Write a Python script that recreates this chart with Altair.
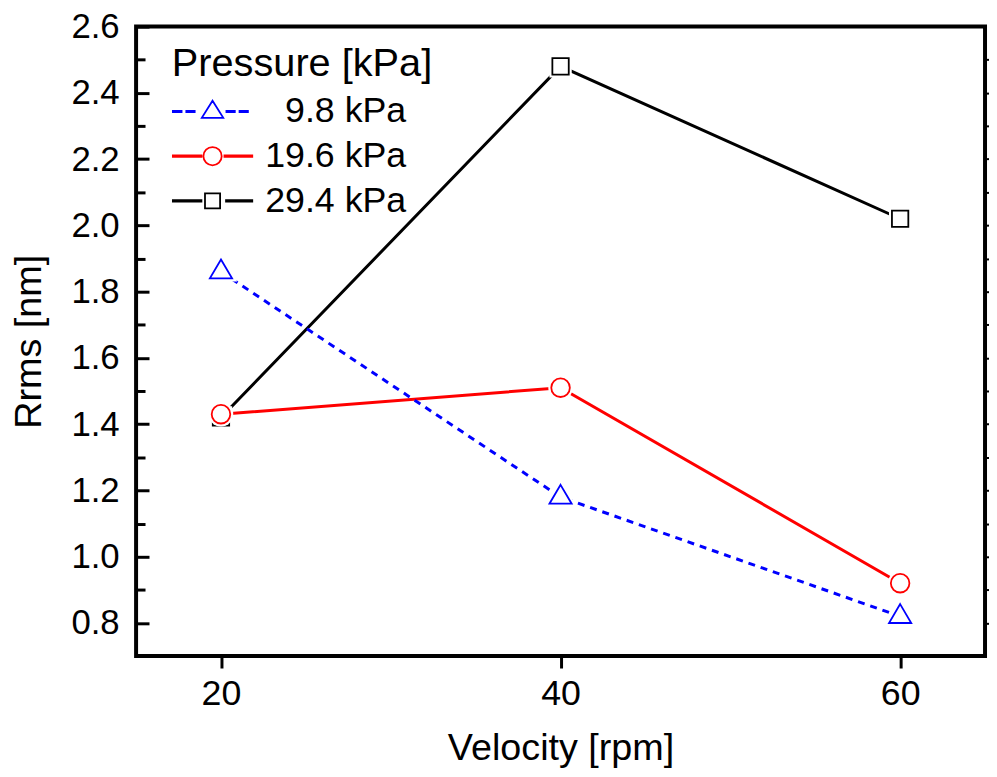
import altair as alt
import pandas as pd

# ---- data ----
velocity = [20, 40, 60]
series_names = ["9.8 kPa", "19.6 kPa", "29.4 kPa"]
rrms_98 = [1.86, 1.18, 0.82]
rrms_196 = [1.43, 1.51, 0.92]
rrms_294 = [1.42, 2.48, 2.02]
series_colors = ["#0000ff", "#ff0000", "#000000"]

x_ticks = [20, 40, 60]
y_major = [0.8, 1.0, 1.2, 1.4, 1.6, 1.8, 2.0, 2.2, 2.4, 2.6]
y_minor = [0.9, 1.1, 1.3, 1.5, 1.7, 1.9, 2.1, 2.3, 2.5]
y_all = sorted(y_major[:-1] + y_minor)

rows = []
for name, vals in zip(series_names, [rrms_98, rrms_196, rrms_294]):
    for v, r in zip(velocity, vals):
        rows.append({"velocity": v, "rrms": r, "series": name})
df = pd.DataFrame(rows)

FONT = "Liberation Sans"
xs = alt.Scale(domain=[15, 65], nice=False, zero=False)
ys = alt.Scale(domain=[0.7, 2.6], nice=False, zero=False)
base = alt.Chart(df)


def enc(x_axis=None, y_axis=None):
    return dict(
        x=alt.X("velocity:Q", scale=xs, axis=x_axis),
        y=alt.Y("rrms:Q", scale=ys, axis=y_axis),
    )


# ---- axes ----
x_main = alt.Axis(orient="bottom", values=x_ticks, format="d", title="Velocity [rpm]", grid=False,
                  domain=False, tickSize=12, tickWidth=3, tickColor="black", labelFont=FONT,
                  labelFontSize=36, labelColor="black", labelPadding=9, titleFont=FONT,
                  titleFontSize=38, titleFontWeight="normal", titleColor="black", titlePadding=18)
y_main = alt.Axis(orient="left", values=y_major, format=".1f", title="Rrms [nm]", grid=False,
                  domain=False, ticks=False, labelFont=FONT, labelFontSize=35, labelColor="black",
                  labelPadding=17, titleFont=FONT, titleFontSize=38, titleFontWeight="normal",
                  titleColor="black", titlePadding=23)
y_major_in = alt.Axis(orient="left", values=y_major, labels=False, title=None, grid=False,
                      domain=False, tickSize=13, tickWidth=3, tickColor="black", offset=-13)
y_minor_in = alt.Axis(orient="left", values=y_minor, labels=False, title=None, grid=False,
                      domain=False, tickSize=9, tickWidth=3, tickColor="black", offset=-9)
y_right = alt.Axis(orient="right", values=y_all, labels=False, title=None, grid=False,
                   domain=False, tickSize=4, tickWidth=2, tickColor="black")

layers = [
    base.mark_point(opacity=0).encode(**enc(x_main, y_main)),
    base.mark_point(opacity=0).encode(**enc(None, y_major_in)),
    base.mark_point(opacity=0).encode(**enc(None, y_minor_in)),
    base.mark_point(opacity=0).encode(**enc(None, y_right)),
]

# ---- lines ----
for i in [2, 1, 0]:
    kw = dict(color=series_colors[i], strokeWidth=3)
    if i == 0:
        kw["strokeDash"] = [7, 6]
    layers.append(base.transform_filter(alt.datum.series == series_names[i])
                  .mark_line(**kw).encode(**enc()))

# ---- markers (white halo, then marker) ----
marker_shapes = ["M0,-1.1L1,0.6L-1,0.6Z", "circle", "square"]
marker_sizes = [500, 350, 272]
for i in [2, 1, 0]:
    sel = base.transform_filter(alt.datum.series == series_names[i])
    layers.append(sel.mark_point(shape=marker_shapes[i], size=marker_sizes[i], filled=True,
                                 fill="white", stroke="white", strokeWidth=6, opacity=1)
                  .encode(**enc()))
    layers.append(sel.mark_point(shape=marker_shapes[i], size=marker_sizes[i], filled=True,
                                 fill="white", stroke=series_colors[i], strokeWidth=1.8,
                                 opacity=1).encode(**enc()))

# ---- legend (symbols = line + marker drawn as one path) ----
h = 0.0175
def seg(a, b):
    return f"M{a},{-h}H{b}V{h}H{a}Z"

legend_paths = [
    seg(-1, -0.78) + seg(-0.66, -0.45) + "M0,-0.27L0.27,0.16L-0.27,0.16Z"
    + seg(0.35, 0.56) + seg(0.68, 0.89),
    seg(-1, -0.28) + "M-0.23,0A0.23,0.23 0 1,0 0.23,0A0.23,0.23 0 1,0 -0.23,0Z" + seg(0.3, 1),
    seg(-1, -0.28) + "M-0.19,-0.19H0.19V0.19H-0.19Z" + seg(0.34, 1),
]

leg = alt.Legend(title="Pressure [kPa]", orient="none", legendX=36, legendY=18, padding=0,
                 symbolSize=6400, clipHeight=45, rowPadding=0, symbolStrokeWidth=1.8,
                 symbolOpacity=1, labelFont=FONT, labelFontSize=36, labelColor="black",
                 labelOffset=12, labelLimit=400,
                 labelExpr="datum.label == '9.8 kPa' ? '\u200b\u00a0\u00a09.8 kPa' : datum.label",
                 titleFont=FONT, titleFontSize=40, titleFontWeight="normal", titleColor="black",
                 titlePadding=5, titleLimit=500)

layers.append(base.mark_point(opacity=0, filled=False).encode(
    color=alt.Color("series:N", scale=alt.Scale(domain=series_names, range=series_colors), legend=leg),
    shape=alt.Shape("series:N", scale=alt.Scale(domain=series_names, range=legend_paths), legend=leg),
    **enc()))

chart = (alt.layer(*layers)
         .resolve_axis(x="independent", y="independent")
         .properties(width=855, height=634, autosize="none",
                     padding={"left": 129, "top": 16, "right": 4, "bottom": 111},
                     background="white")
         .configure_view(stroke="black", strokeWidth=4))

chart.save("out.html", embed_options={"renderer": "svg", "actions": False})
